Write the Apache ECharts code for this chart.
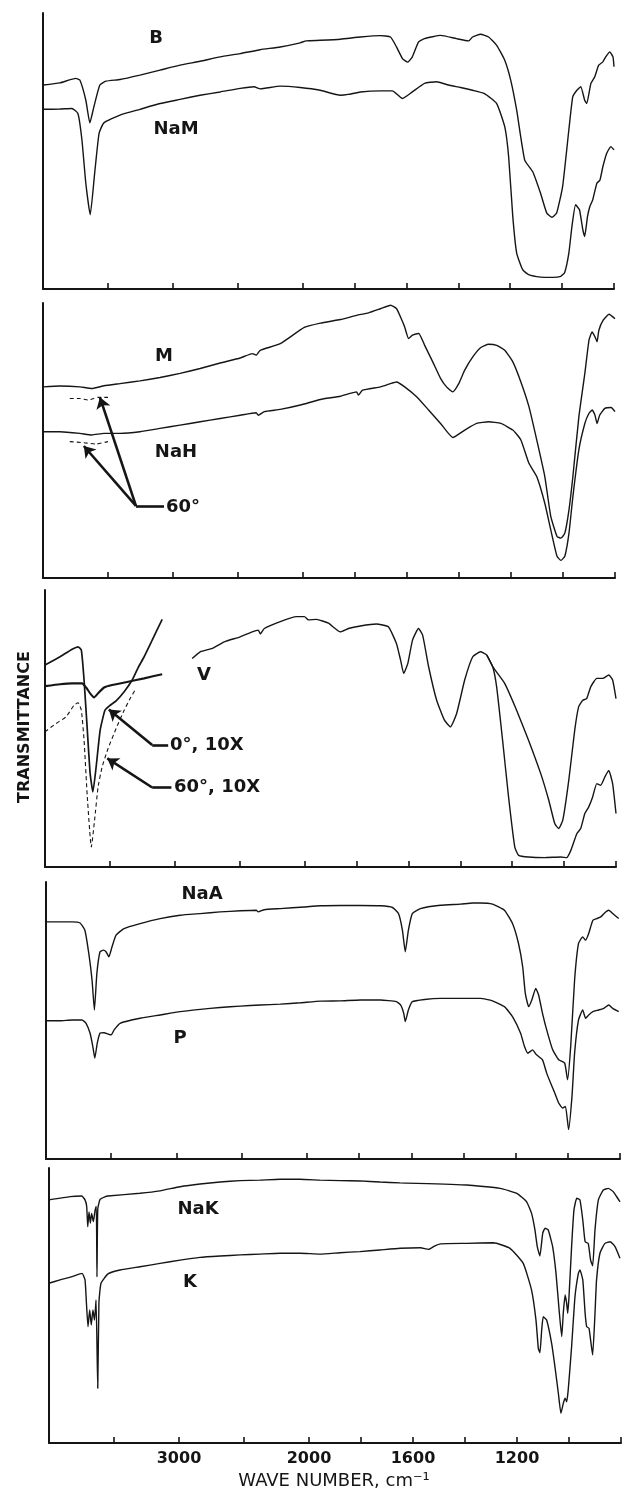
<!DOCTYPE html>
<html>
<head>
<meta charset="utf-8">
<script src="https://cdn.jsdelivr.net/npm/echarts@6/dist/echarts.min.js"></script>
<style>
html,body{margin:0;padding:0;background:#fff;}
#c{width:628px;height:1492px;}
</style>
</head>
<body>
<div id="c"></div>
<script>
// ---- DATA (wavenumber cm-1, relative transmittance 0..100 of each panel) ----
const xTickWavenumbers = [3500, 3000, 2500, 2000, 1800, 1600, 1400, 1200, 1000, 800];
const xLabelWavenumbers = [3000, 2000, 1600, 1200];

// Panel 1
const specB = [[4000,73.9],[3870,74.7],[3747,76.3],[3716,75.7],[3670,68.4],[3639,60.2],[3608,66.0],[3562,73.9],[3515,75.3],[3407,75.9],[3253,77.5],[3098,79.3],[2944,81.1],[2790,82.5],[2635,84.1],[2481,85.3],[2326,86.7],[2172,87.7],[2018,89.2],[1986,89.9],[1932,90.1],[1854,90.5],[1777,91.3],[1700,91.8],[1661,91.3],[1638,87.7],[1615,83.5],[1595,82.2],[1577,84.1],[1553,89.5],[1530,90.7],[1468,91.9],[1407,90.7],[1360,89.9],[1345,91.3],[1314,92.3],[1283,91.3],[1252,88.3],[1221,82.9],[1198,75.7],[1175,64.8],[1144,46.7],[1113,42.5],[1083,34.7],[1059,27.5],[1039,26.0],[1021,27.5],[998,37.1],[974,57.6],[959,69.6],[943,72.0],[928,73.3],[913,68.4],[905,67.2],[889,74.5],[874,76.9],[859,81.1],[843,82.3],[832,84.1],[816,85.9],[804,84.1],[800,80.5]];
const specNaM = [[4000,65.1],[3870,65.2],[3778,65.4],[3731,63.6],[3700,54.0],[3670,38.3],[3636,26.9],[3602,41.9],[3568,56.4],[3531,60.2],[3407,63.0],[3253,65.1],[3098,67.2],[2944,68.7],[2790,70.2],[2635,71.4],[2481,72.7],[2373,73.3],[2326,72.5],[2172,73.5],[2018,73.0],[1932,72.0],[1854,70.2],[1824,70.5],[1777,71.4],[1700,71.8],[1654,71.8],[1615,69.0],[1577,71.4],[1530,74.5],[1484,75.1],[1438,73.9],[1391,73.0],[1345,72.0],[1299,70.8],[1252,67.2],[1221,58.8],[1206,48.0],[1190,26.3],[1175,13.0],[1152,7.0],[1129,5.2],[1083,4.3],[1036,4.2],[1005,4.6],[990,6.0],[974,13.0],[962,22.7],[948,30.5],[933,28.7],[920,21.4],[913,19.0],[902,26.3],[893,29.9],[882,32.3],[866,38.3],[854,39.5],[843,44.3],[828,49.2],[812,51.6],[800,50.4]];

// Panel 2
const specM = [[4000,69.5],[3870,69.8],[3716,69.5],[3624,68.9],[3531,69.9],[3408,70.7],[3254,71.7],[3100,72.9],[2946,74.4],[2791,76.2],[2637,78.2],[2483,80.0],[2390,81.6],[2360,81.0],[2329,82.8],[2175,85.2],[1995,91.1],[1933,92.7],[1856,94.0],[1794,95.5],[1748,96.4],[1702,97.9],[1663,99.2],[1640,97.9],[1625,94.9],[1609,91.3],[1594,87.1],[1579,88.3],[1555,88.9],[1532,84.6],[1501,78.6],[1471,72.6],[1448,69.5],[1424,67.7],[1401,70.7],[1378,75.6],[1347,80.4],[1316,83.8],[1286,85.0],[1255,84.6],[1224,82.8],[1193,78.6],[1162,71.3],[1131,62.3],[1101,50.2],[1070,36.9],[1047,22.4],[1023,15.1],[1008,14.5],[993,16.3],[977,24.8],[962,36.9],[939,58.6],[916,74.4],[900,86.5],[888,89.5],[877,87.7],[869,85.9],[862,90.1],[846,93.7],[823,95.9],[800,94.3]];
const specNaH = [[4000,53.2],[3870,53.2],[3716,52.6],[3624,52.0],[3531,52.6],[3408,52.6],[3254,53.2],[3100,54.4],[2946,55.6],[2791,56.8],[2637,58.0],[2483,59.2],[2360,60.1],[2344,59.2],[2298,60.5],[2175,61.3],[2020,62.9],[1933,64.9],[1856,66.1],[1794,67.7],[1787,66.5],[1771,68.3],[1702,69.5],[1663,70.7],[1640,71.3],[1609,69.5],[1563,65.9],[1517,61.1],[1471,56.2],[1424,51.1],[1378,53.8],[1332,56.2],[1286,56.8],[1239,56.2],[1193,53.8],[1162,50.2],[1131,41.7],[1101,36.9],[1070,27.2],[1047,17.5],[1023,7.9],[1008,6.4],[993,7.9],[977,16.3],[962,29.6],[939,46.6],[916,56.2],[900,59.9],[888,61.1],[877,59.2],[869,56.2],[859,59.2],[839,61.7],[815,62.0],[800,60.5]];
const specM60 = [[3794,65.3],[3716,65.3],[3655,64.7],[3608,65.3],[3578,65.7],[3500,65.7]];
const specNaH60 = [[3794,49.6],[3685,49.2],[3593,48.7],[3500,49.6]];

// Panel 3
const specV = [[2866,75.3],[2804,77.7],[2711,78.9],[2618,81.3],[2495,83.1],[2403,84.9],[2356,85.5],[2341,84.1],[2310,86.1],[2187,88.6],[2063,90.4],[2001,90.4],[1985,89.2],[1954,89.4],[1908,88.0],[1862,84.9],[1831,86.1],[1785,87.0],[1723,87.7],[1677,86.7],[1646,80.7],[1630,74.7],[1618,69.9],[1602,73.5],[1584,81.9],[1561,86.1],[1545,83.7],[1522,72.3],[1491,60.2],[1461,53.0],[1438,50.6],[1414,55.4],[1383,67.5],[1352,75.9],[1322,77.7],[1298,76.5],[1275,72.3],[1229,66.3],[1183,56.6],[1137,45.8],[1090,33.7],[1059,24.1],[1036,15.7],[1021,13.9],[1005,16.9],[982,31.3],[959,49.4],[944,57.8],[928,60.2],[913,60.8],[897,65.1],[874,68.1],[851,68.1],[828,69.3],[813,67.5],[800,60.8]];
const specV2 = [[1298,76.5],[1275,72.3],[1260,65.1],[1237,45.8],[1214,25.3],[1190,7.2],[1175,4.2],[1137,3.6],[1075,3.4],[1013,3.6],[990,3.4],[974,6.0],[951,12.0],[936,13.9],[920,19.3],[905,21.7],[890,25.3],[874,30.1],[859,29.5],[843,32.5],[828,34.9],[813,30.1],[800,19.3]];
const specVleft = [[4000,65.3],[3884,66.0],[3791,66.3],[3714,66.3],[3683,64.8],[3652,62.7],[3622,61.2],[3591,62.7],[3545,64.8],[3483,65.7],[3359,66.9],[3236,68.1],[3097,69.6]];
const specV0x10 = [[4000,72.9],[3884,75.9],[3791,78.6],[3745,79.5],[3720,78.3],[3699,67.5],[3674,49.4],[3652,33.7],[3631,27.1],[3606,36.1],[3575,49.4],[3538,56.6],[3498,58.4],[3452,60.0],[3390,63.3],[3328,67.5],[3282,72.0],[3236,75.9],[3174,81.9],[3097,89.4]];
const specV60x10 = [[4000,48.8],[3915,51.8],[3838,54.2],[3776,58.4],[3745,59.3],[3720,56.6],[3699,45.8],[3674,25.3],[3643,7.2],[3618,16.9],[3591,28.9],[3560,36.1],[3514,42.8],[3452,50.0],[3390,56.6],[3344,60.8],[3298,64.5]];

// Panel 4
const specNaA = [[4000,85.6],[3893,85.6],[3800,85.6],[3739,85.2],[3702,82.6],[3672,74.2],[3647,64.6],[3629,53.8],[3610,67.0],[3586,74.8],[3561,75.4],[3540,74.8],[3518,73.0],[3494,76.6],[3463,80.8],[3402,83.2],[3279,85.0],[3125,86.8],[2972,88.0],[2818,88.6],[2665,89.2],[2511,89.6],[2388,89.8],[2373,89.2],[2327,90.0],[2204,90.4],[2020,91.0],[1948,91.4],[1872,91.5],[1795,91.5],[1718,91.4],[1672,90.8],[1649,88.6],[1634,82.6],[1623,74.8],[1611,82.6],[1596,88.6],[1565,90.4],[1488,91.6],[1411,92.0],[1365,92.4],[1335,92.4],[1289,92.0],[1243,89.8],[1212,85.0],[1189,77.8],[1173,69.4],[1163,59.8],[1150,55.0],[1138,57.4],[1123,61.6],[1112,59.2],[1097,52.6],[1081,46.6],[1058,39.4],[1035,35.8],[1012,34.6],[1001,28.6],[989,40.6],[974,64.6],[959,77.8],[943,80.2],[932,79.0],[920,81.4],[904,86.2],[889,86.8],[874,87.4],[855,89.2],[843,89.8],[828,88.6],[805,86.8]];
const specP = [[4000,49.9],[3893,49.9],[3800,50.2],[3724,50.2],[3693,49.0],[3662,45.4],[3641,40.6],[3626,36.4],[3607,41.8],[3586,45.4],[3555,45.6],[3524,45.1],[3500,44.8],[3478,46.6],[3432,49.0],[3279,50.8],[3125,52.0],[2972,53.2],[2818,54.0],[2665,54.7],[2511,55.2],[2358,55.6],[2204,55.9],[2050,56.4],[1948,57.0],[1872,57.1],[1795,57.4],[1718,57.4],[1657,56.8],[1641,55.6],[1629,52.6],[1623,49.6],[1611,53.8],[1596,56.8],[1549,57.6],[1488,58.0],[1411,58.0],[1335,58.0],[1289,57.1],[1243,55.0],[1212,51.4],[1181,45.4],[1166,40.6],[1153,38.2],[1135,39.4],[1120,37.6],[1097,35.8],[1081,31.0],[1066,27.4],[1050,23.8],[1035,20.2],[1020,18.4],[1009,19.0],[997,10.6],[984,22.6],[974,38.2],[959,50.2],[943,53.8],[932,50.8],[920,52.0],[904,53.2],[882,53.8],[862,54.4],[843,55.6],[828,54.4],[805,53.2]];

// Panel 5
const specNaK = [[4000,88.4],[3838,89.6],[3748,89.8],[3723,88.4],[3710,86.0],[3702,78.7],[3692,84.0],[3682,80.0],[3672,83.5],[3659,80.5],[3646,84.5],[3636,86.0],[3631,60.4],[3625,85.0],[3608,88.5],[3570,89.5],[3546,89.8],[3300,90.8],[3146,91.7],[2992,93.2],[2838,94.2],[2684,94.9],[2530,95.4],[2377,95.6],[2223,95.9],[2070,95.9],[1958,95.6],[1881,95.4],[1804,95.3],[1727,94.9],[1650,94.6],[1393,93.8],[1265,92.6],[1201,90.8],[1163,87.7],[1144,83.5],[1131,77.5],[1122,71.4],[1112,68.0],[1101,76.3],[1092,78.1],[1080,77.5],[1063,71.4],[1050,61.7],[1037,47.2],[1028,38.7],[1022,47.2],[1015,53.8],[1009,50.8],[1005,47.2],[1000,53.2],[990,71.4],[981,84.7],[970,89.0],[958,88.4],[947,81.1],[938,73.2],[926,72.6],[917,66.5],[909,64.4],[900,77.5],[887,88.4],[868,92.0],[849,92.6],[830,91.4],[804,87.7]];
const specK = [[4000,58.1],[3915,59.3],[3823,60.5],[3746,61.7],[3723,59.3],[3712,50.8],[3700,42.3],[3687,48.4],[3675,42.9],[3662,48.4],[3650,44.7],[3638,52.0],[3625,19.9],[3616,50.8],[3600,58.1],[3546,61.5],[3454,62.9],[3300,64.1],[3146,65.3],[2992,66.5],[2838,67.5],[2684,68.0],[2530,68.4],[2377,68.7],[2223,69.0],[2070,69.0],[1958,68.7],[1881,69.2],[1804,69.6],[1727,70.2],[1650,70.8],[1571,71.0],[1540,70.4],[1517,71.6],[1494,72.4],[1393,72.6],[1291,72.8],[1227,70.8],[1176,65.3],[1144,55.6],[1127,44.7],[1118,34.4],[1112,32.8],[1105,41.1],[1099,45.9],[1086,44.7],[1067,36.3],[1054,27.7],[1041,18.1],[1031,10.8],[1022,14.4],[1015,16.3],[1009,15.0],[1003,19.3],[990,35.0],[977,53.2],[964,61.7],[958,62.9],[947,59.3],[938,47.2],[932,42.3],[923,41.7],[917,37.5],[909,32.0],[900,47.2],[894,59.3],[881,69.0],[862,72.6],[842,73.2],[823,71.4],[804,67.2]];

// Annotation leader lines (wavenumber, transmittance)
const arrows60 = {start:[3069,26.2], elbow:[3285,26.2], tips:[[3562,65.7],[3686,48.0]]};
const arrow0x10 = {start:[3051,44.0], elbow:[3174,44.0], tip:[3508,56.9]};
const arrow60x10 = {start:[3026,28.7], elbow:[3174,28.7], tip:[3520,39.2]};

// ---- helpers ----
// Chart abscissa: 4000-2000 cm-1 at half the scale of 2000-800 cm-1 (grating change).
function toU(w){ return w >= 2000 ? (4000 - w) / 2 : 1000 + (2000 - w); }
function fromU(u){ return u <= 1000 ? 4000 - 2*u : 3000 - u; }
function pts(a){ return a.map(p => [toU(p[0]), p[1]]); }

const FONT = 'DejaVu Sans';
const INK = '#151515';

const panels = [
  {left:43, top:13,   width:571, height:276},
  {left:43, top:303,  width:572, height:275},
  {left:45, top:590,  width:571, height:277},
  {left:46, top:882,  width:574, height:277},
  {left:49, top:1168, width:572, height:275}
];

const tickU = xTickWavenumbers.map(toU);
const labelU = xLabelWavenumbers.map(toU);

function line(data, idx, opts){
  opts = opts || {};
  return {
    type:'line', xAxisIndex:idx, yAxisIndex:idx, data:pts(data),
    showSymbol:false, symbol:'none', smooth:0.15, animation:false, silent:true,
    lineStyle:{color:INK, width:opts.width || 1.4, type:opts.dash ? [4,3] : 'solid'},
    markLine: opts.markLine
  };
}

function seg(a, b, arrow){
  return [
    {coord:[toU(a[0]), a[1]], symbol:'none'},
    {coord:[toU(b[0]), b[1]], symbol: arrow ? 'arrow' : 'none', symbolSize: arrow ? 11 : 0}
  ];
}
function mk(list){
  return {
    silent:true, animation:false, symbol:['none','none'],
    label:{show:false}, emphasis:{disabled:true},
    lineStyle:{color:INK, width:2.6, type:'solid'},
    data:list
  };
}

const ml2 = mk([
  seg(arrows60.start, arrows60.elbow, false),
  seg(arrows60.elbow, arrows60.tips[0], true),
  seg(arrows60.elbow, arrows60.tips[1], true)
]);
const ml3 = mk([
  seg(arrow0x10.start, arrow0x10.elbow, false),
  seg(arrow0x10.elbow, arrow0x10.tip, true),
  seg(arrow60x10.start, arrow60x10.elbow, false),
  seg(arrow60x10.elbow, arrow60x10.tip, true)
]);

const series = [
  line(specB, 0), line(specNaM, 0),
  line(specM, 1), line(specNaH, 1, {markLine: ml2}),
  line(specM60, 1, {dash:true, width:1.1}), line(specNaH60, 1, {dash:true, width:1.1}),
  line(specV, 2, {markLine: ml3}), line(specV2, 2),
  line(specVleft, 2, {width:2.1}), line(specV0x10, 2, {width:1.7}),
  line(specV60x10, 2, {dash:true, width:1.1}),
  line(specNaA, 3), line(specP, 3),
  line(specNaK, 4), line(specK, 4)
];

function txt(x, y, s, size, opts){
  opts = opts || {};
  return {
    type:'text', x:x, y:y, rotation: opts.rot || 0, silent:true,
    style:{text:s, fill:INK, font:(opts.weight || 'bold') + ' ' + size + 'px "' + FONT + '"',
           textAlign: opts.align || 'center', textVerticalAlign:'middle'}
  };
}

const option = {
  backgroundColor:'#ffffff',
  animation:false,
  grid: panels.map(p => ({left:p.left, top:p.top, width:p.width, height:p.height, containLabel:false})),
  xAxis: panels.map((p, i) => ({
    gridIndex:i, type:'value', min:0, max:2200,
    axisLine:{show:true, onZero:false, lineStyle:{color:INK, width:2}},
    axisTick:{show:true, inside:true, length:6, customValues:tickU, lineStyle:{color:INK, width:1.6}},
    axisLabel:{show:i === 4, customValues:labelU, formatter:v => String(Math.round(fromU(v))),
               color:INK, fontFamily:FONT, fontWeight:'bold', fontSize:16, margin:8},
    splitLine:{show:false}
  })),
  yAxis: panels.map((p, i) => ({
    gridIndex:i, type:'value', min:0, max:100,
    axisLine:{show:true, onZero:false, lineStyle:{color:INK, width:2}},
    axisTick:{show:false}, axisLabel:{show:false}, splitLine:{show:false}
  })),
  series: series,
  graphic: [
    txt(156, 38, 'B', 18),
    txt(176, 129, 'NaM', 18),
    txt(164, 356, 'M', 18),
    txt(176, 452, 'NaH', 18),
    txt(166, 507, '60°', 18, {align:'left'}),
    txt(204, 675, 'V', 18),
    txt(170, 745, '0°, 10X', 18, {align:'left'}),
    txt(174, 787, '60°, 10X', 18, {align:'left'}),
    txt(202, 894, 'NaA', 18),
    txt(180, 1038, 'P', 18),
    txt(198, 1209, 'NaK', 18),
    txt(190, 1282, 'K', 18),
    txt(25, 727, 'TRANSMITTANCE', 16, {rot:Math.PI/2}),
    txt(334, 1481, 'WAVE NUMBER, cm⁻¹', 18, {weight:'normal'})
  ]
};

const chart = echarts.init(document.getElementById('c'), null, {renderer:'canvas'});
chart.setOption(option);
</script>
</body>
</html>
